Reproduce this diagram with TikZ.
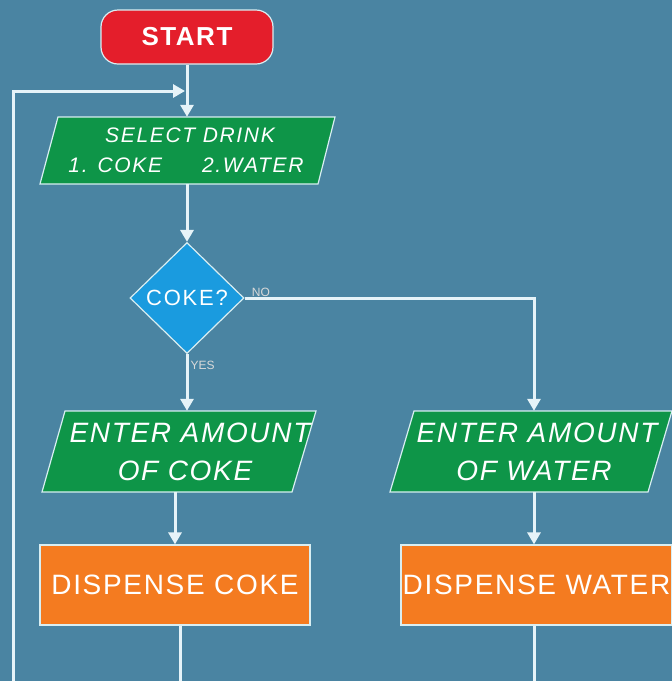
\documentclass[tikz,border=0pt]{standalone}
\usepackage{fontspec}
\setmainfont{Liberation Sans}
\newfontfamily\spacedA[LetterSpace=6]{Liberation Sans}
\newfontfamily\spacedB[LetterSpace=8]{Liberation Sans}
\usetikzlibrary{shapes.geometric,arrows.meta}
\definecolor{bg}{HTML}{4A84A2}
\definecolor{startred}{HTML}{E41E2B}
\definecolor{iogreen}{HTML}{0E9548}
\definecolor{decblue}{HTML}{1A9BDF}
\definecolor{procorange}{HTML}{F47B20}
\definecolor{linec}{HTML}{E6F3F8}
\definecolor{edgec}{HTML}{D8EEF2}
\definecolor{lblc}{HTML}{D9D9D9}
\begin{document}
\begin{tikzpicture}[x=1pt,y=-1pt,
  conn/.style={draw=linec,line width=3pt},
  arr/.style={conn,-{Triangle[width=13pt,length=12pt]}},
  iotext/.style={text=white,align=center,inner sep=0pt},
  edgeline/.style={draw=edgec,line width=1.2pt},
  lbl/.style={text=lblc,font=\fontsize{12}{14}\selectfont,inner sep=1pt}]
\useasboundingbox (0,0) rectangle (672,681);
\fill[bg] (0,0) rectangle (672,681);

% START
\node[rectangle, rounded corners=17pt, fill=startred, edgeline, minimum width=172pt, minimum height=54pt,
  text=white, font=\spacedA\fontsize{26}{30}\selectfont\bfseries] (start) at (187,37) {START};

% SELECT DRINK parallelogram
\path[fill=iogreen, edgeline] (58,117) -- (335,117) -- (318,184) -- (40,184) -- cycle;
\node[iotext, minimum height=67pt, font=\spacedB\fontsize{21}{30}\selectfont\itshape] (sel) at (186,150.5)
  {\hspace*{8pt}SELECT DRINK\\1. COKE\hspace{1.9em}2.WATER};

% Decision
\node[diamond, fill=decblue, edgeline, minimum width=114pt, minimum height=111pt, inner sep=0pt,
  text=white, font=\spacedB\fontsize{22}{24}\selectfont] (dia) at (187,298) {COKE?};

% ENTER AMOUNT OF COKE
\path[fill=iogreen, edgeline] (65,411) -- (316,411) -- (292,492) -- (42,492) -- cycle;
\node[iotext, minimum height=81pt, font=\spacedA\fontsize{28}{38}\selectfont\itshape] (cokein) at (185,451.5)
  {\hspace*{10pt}ENTER AMOUNT\\OF COKE};

% ENTER AMOUNT OF WATER
\path[fill=iogreen, edgeline] (414,411) -- (672,411) -- (648,492) -- (390,492) -- cycle;
\node[iotext, minimum height=81pt, font=\spacedA\fontsize{28}{38}\selectfont\itshape] (watin) at (534,451.5)
  {\hspace*{6pt}ENTER AMOUNT\\OF WATER};

% DISPENSE boxes
\node[rectangle, fill=procorange, edgeline, minimum width=270pt, minimum height=80pt, inner sep=0pt,
  text=white, font=\spacedA\fontsize{28}{32}\selectfont] (dispc) at (175,585) {DISPENSE COKE};
\node[rectangle, fill=procorange, edgeline, minimum width=271pt, minimum height=80pt, inner sep=0pt,
  text=white, font=\spacedA\fontsize{28}{32}\selectfont] (dispw) at (536.5,585) {DISPENSE WATER};

% coordinates
\coordinate (loopbot) at (13,681);
\coordinate (looptip) at (185,91);
\coordinate (cokebot) at (180,681);
\coordinate (waterbot) at (534,681);

% connectors
\draw[arr] (start.south) -- (start.south |- sel.north);
\draw[arr] (loopbot) |- (looptip);
\draw[arr] (sel.south -| dia.north) -- (dia.north);
\draw[arr] (dia.south) -- node[lbl, pos=0.2, right=1pt] {YES} (dia.south |- cokein.north);
\draw[arr] (dia.east) -- node[lbl, pos=0.02, above right=-1pt] {NO} (watin.north |- dia.east) -- (watin.north);
\draw[arr] (cokein.south -| dispc.north) -- (dispc.north);
\draw[arr] (watin.south) -- (watin.south |- dispw.north);
\draw[conn] (cokebot |- dispc.south) -- (cokebot);
\draw[conn] (waterbot |- dispw.south) -- (waterbot);
\end{tikzpicture}
\end{document}
